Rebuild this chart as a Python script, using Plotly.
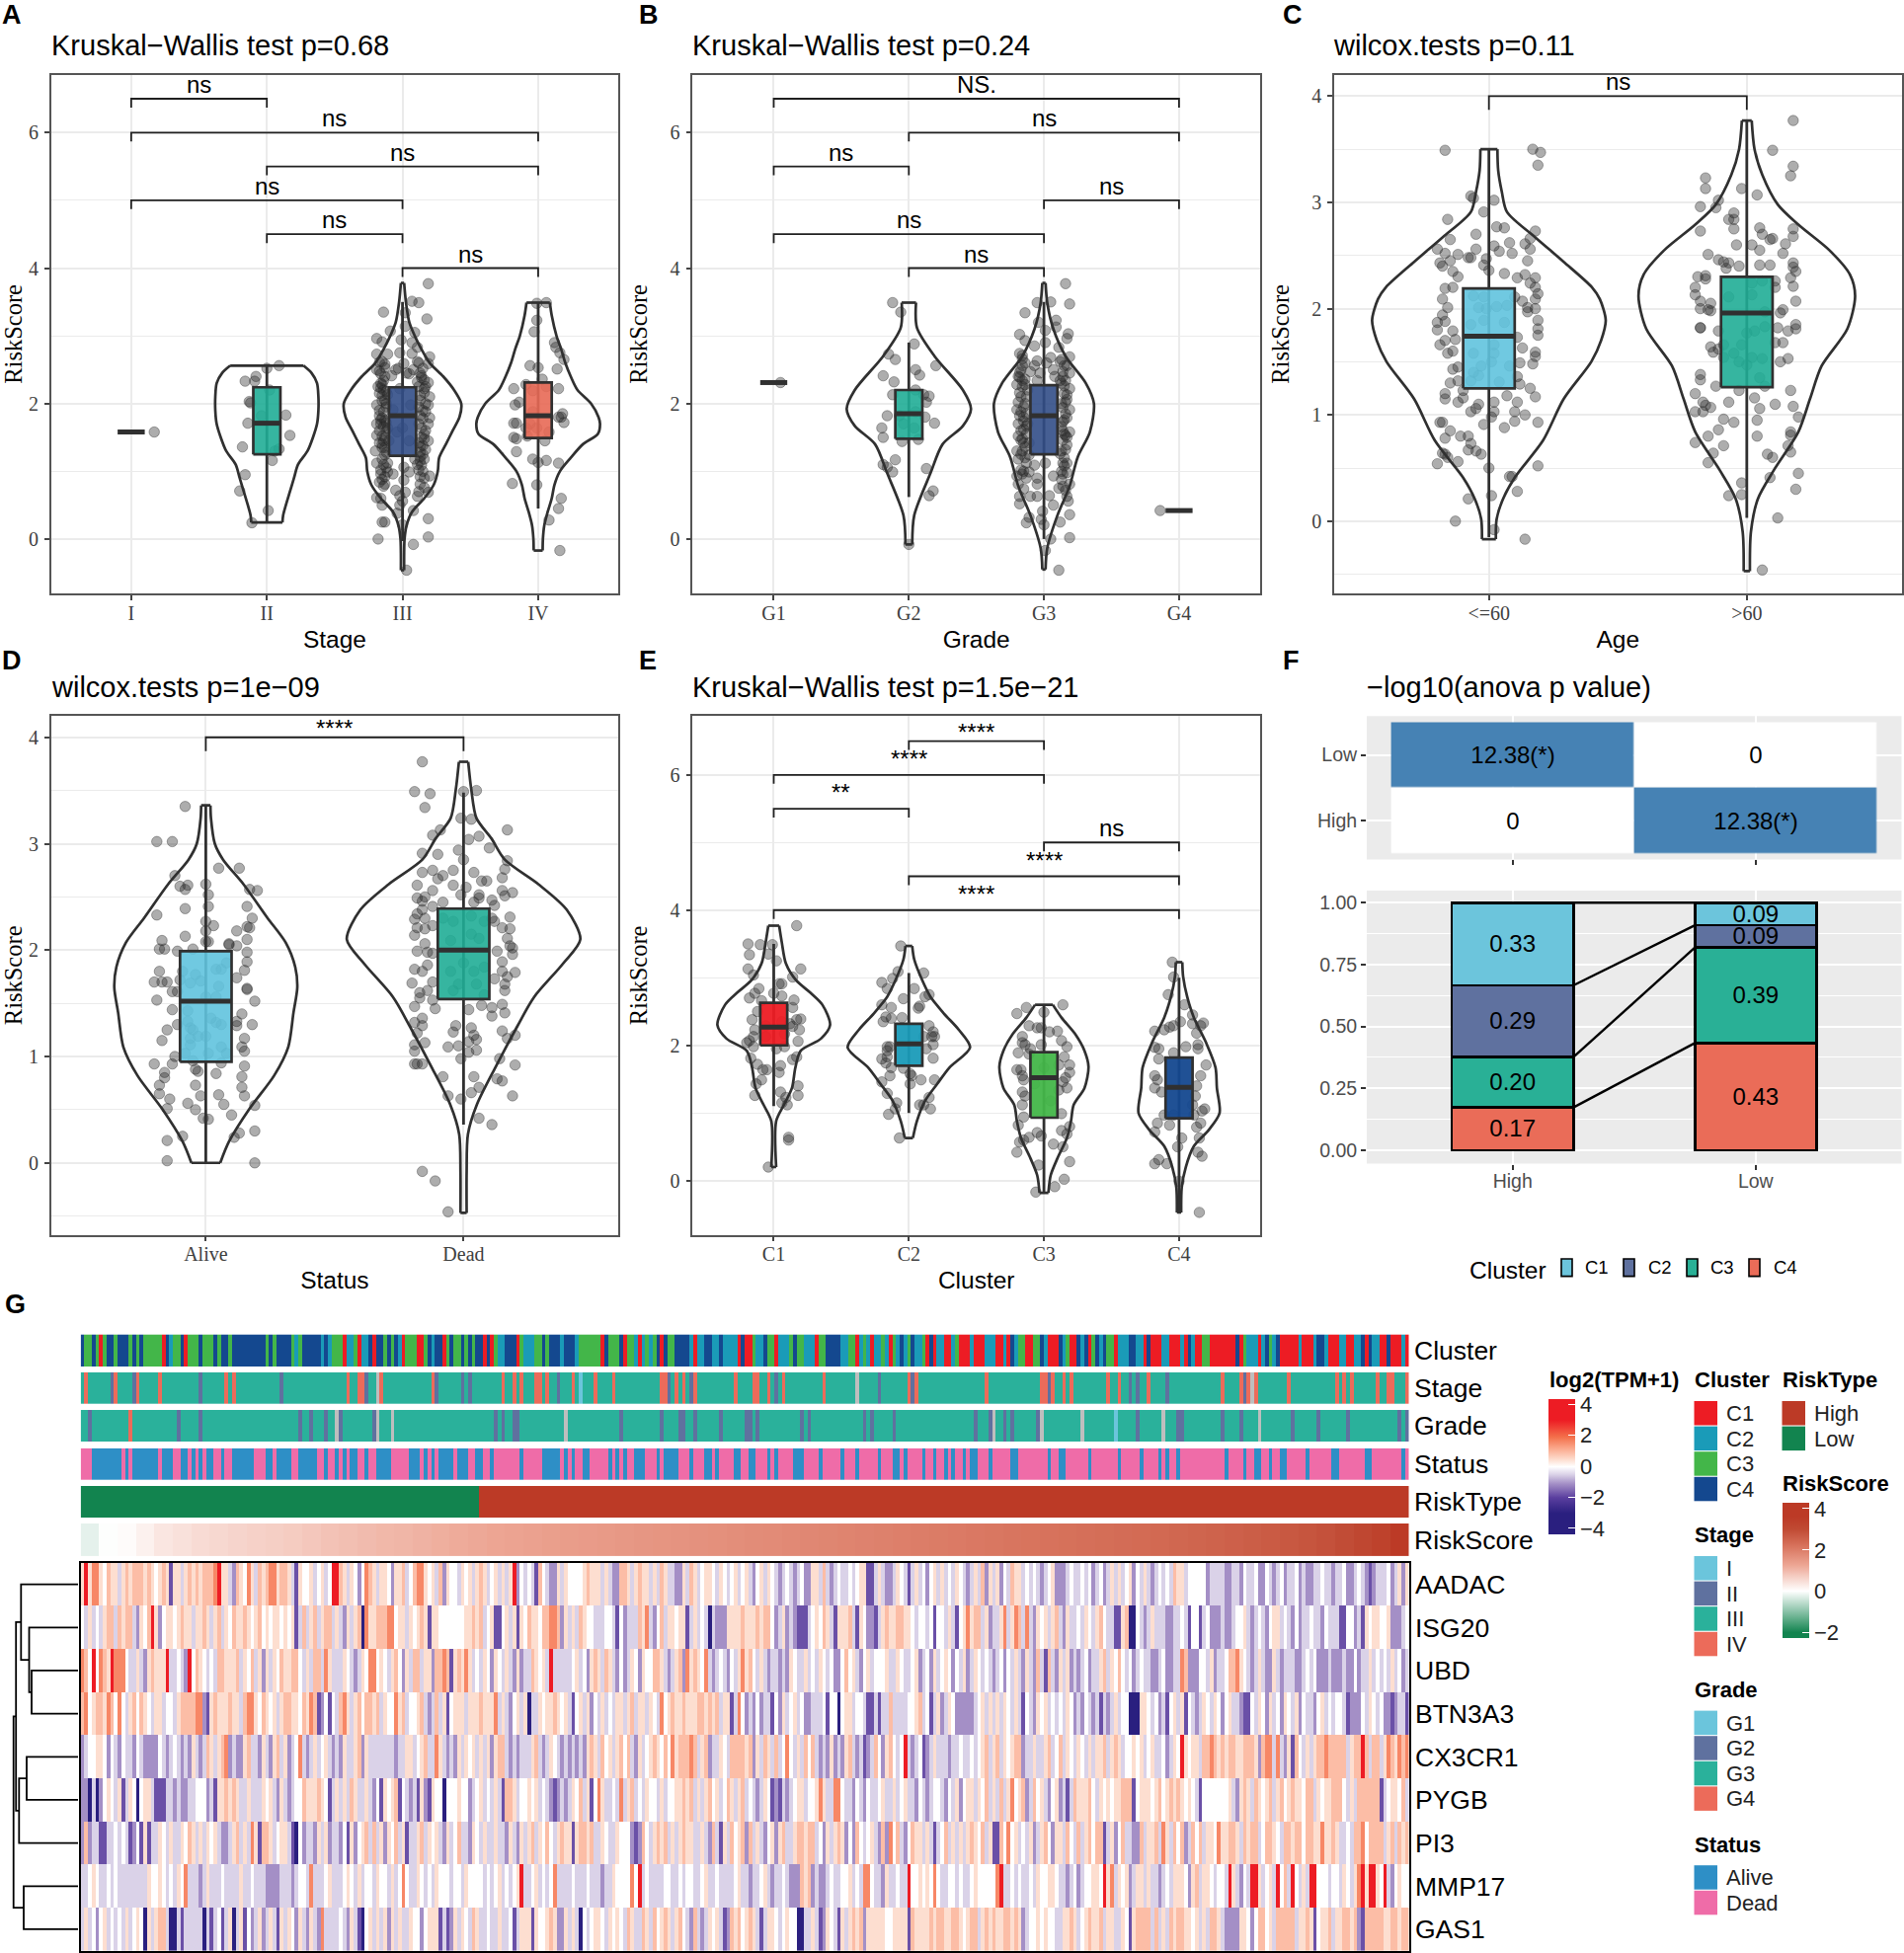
import plotly.graph_objects as go

W, H = 1928, 1978
# ---------- data ----------
# points: (horizontal jitter in category units, RiskScore)
A_I = [(.17,1.58)]
A_II = [(.09,2.56),(0,2.52),(-.08,2.4),(-.16,2.33),(-.09,2.33),(.02,2.2),(-.13,2.03),(-.12,2.01),(.14,1.83),(-.14,1.71),(.17,1.53),(-.18,1.36),(.09,1.33),(.04,1.16),(-.16,.95),(-.2,.71),(.01,.42),(-.11,.24),(-.04,1.82),(.06,1.3)]
A_III = [(.19,3.77),(.07,3.51),(.12,3.49),(-.14,3.35),(.02,3.34),(.18,3.25),(.02,3.14),(-.09,3.07),(.09,3.05),(-.19,2.96),(-.15,2.91),(-.01,2.94),(.07,2.9),(.11,2.83),(.07,2.74),(-.19,2.73),(-.11,2.73),(-.02,2.75),(.2,2.69),(.11,2.62),(.19,2.59),(-.17,2.61),(.01,2.59),(-.13,2.53),(-.05,2.5),(.05,2.44),(.14,2.41),(-.19,2.5),(-.16,2.44),(-.08,2.41),(.19,2.31),(-.15,2.28),(-.18,2.25),(-.02,2.22),(.16,2.16),(-.11,2.13),(.2,2.1),(-.15,2.04),(-.19,1.98),(.19,1.98),(.17,1.88),(-.17,1.82),(-.15,1.79),(.2,1.79),(-.16,1.7),(-.19,1.7),(.19,1.7),(.14,1.64),(-.11,1.64),(-.19,1.53),(-.15,1.52),(.19,1.45),(.16,1.55),(-.1,1.45),(.17,1.32),(-.2,1.3),(-.13,1.24),(.13,1.21),(.09,1.18),(-.19,1.12),(-.11,1.12),(.01,1.06),(.14,1.09),(-.16,.96),(-.11,.99),(.2,.93),(-.07,.96),(.05,.99),(.16,.9),(.01,.87),(-.17,.84),(-.13,.81),(.13,.81),(-.05,.72),(.02,.69),(.19,.69),(-.19,.61),(-.16,.6),(-.02,.64),(.11,.63),(-.15,.5),(-.02,.5),(0,.56),(.08,.42),(-.04,.38),(.19,.3),(-.15,.25),(-.13,.25),(0,.21),(-.18,0),(.19,.03),(.08,-.08),(.03,-.46),(-.07,1.91),(.06,1.98),(-.04,1.58),(.05,1.45),(0,1.64),(-.13,2.4),(-.16,2.3),(-.14,2.2),(-.17,2.15),(-.13,2.05),(-.12,1.95),(-.17,1.9),(-.13,1.75),(-.12,1.6),(-.14,1.45),(-.13,1.35),(-.14,1.1),(-.16,1.02),(-.15,.88),(.13,2.45),(.16,2.35),(.12,2.25),(.17,2.25),(.13,2.05),(.15,1.9),(.13,1.82),(.17,1.6),(.14,1.5),(.13,1.36),(.15,1.25),(.13,1.15),(.12,1.02),(.03,2.45),(-.03,2.52),(.08,2.5),(-.15,1.35),(-.17,1.42),
 (-.15,2.62),(-.13,2.58),(-.17,2.48),(-.14,2.34),(-.16,2.23),(-.12,2.18),(-.15,2.12),(-.12,2.0),(-.14,1.88),(-.16,1.76),(-.12,1.72),(-.14,1.66),(-.17,1.6),(-.13,1.5),(-.15,1.4),(-.12,1.28),(-.15,1.18),(-.12,1.05),(-.13,.92),(-.14,.78),(.12,2.6),(.15,2.52),(.14,2.38),(.11,2.32),(.16,2.22),(.13,2.12),(.17,2.0),(.12,1.95),(.15,1.78),(.12,1.7),(.16,1.48),(.12,1.42),(.15,1.38),(.13,1.28),(.16,1.18),(.11,1.1),(.15,1.0),(.13,.92),(.16,.76),(.12,.7)]
A_IV = [(-.01,3.48),(.06,3.49),(-.01,3.23),(-.03,3.06),(.12,2.9),(.13,2.83),(.16,2.75),(.19,2.65),(-.06,2.56),(0,2.53),(.14,2.51),(.03,2.36),(-.09,2.28),(-.18,2.22),(.15,2.22),(-.14,2.02),(-.17,1.98),(.18,1.85),(.15,1.8),(.17,1.8),(.19,1.72),(-.18,1.71),(-.16,1.71),(-.06,1.7),(-.09,1.64),(-.18,1.5),(-.16,1.48),(-.08,1.52),(.05,1.45),(-.16,1.29),(-.04,1.18),(.06,1.16),(0,1.13),(.15,1.12),(-.19,.82),(-.01,.8),(.17,.6),(.15,.45),(.08,.28),(.16,-.17),(-.04,1.88),(.06,2.25),(-.04,2.19),(.08,1.58),(-.01,1.64)]
B_G1 = [(.05,2.31)]
B_G2 = [(-.12,3.49),(-.06,3.35),(.04,2.88),(-.15,2.73),(-.1,2.65),(.2,2.56),(.05,2.5),(.08,2.42),(-.19,2.41),(-.11,2.32),(.05,2.2),(-.12,2.13),(.15,2.11),(.11,2.13),(.13,2.02),(.12,1.8),(-.16,1.82),(-.2,1.64),(.19,1.71),(-.19,1.5),(-.05,1.44),(.07,1.47),(-.1,1.17),(-.19,1.1),(-.16,1.06),(-.12,.99),(.13,1.04),(.18,.71),(.15,.64),(0,-.08),(-.07,1.82),(.05,1.88),(-.04,1.7),(.04,1.64)]
B_G3 = [(.16,3.77),(-.05,3.49),(.05,3.5),(.19,3.47),(-.14,3.34),(-.04,3.2),(.09,3.23),(.01,3.08),(.09,3.13),(-.18,3.02),(.18,3.03),(.17,2.96),(-.14,2.93),(-.07,2.85),(.01,2.9),(.11,2.83),(.19,2.69),(-.18,2.74),(-.16,2.71),(-.05,2.63),(.05,2.68),(.13,2.65),(.17,2.56),(-.16,2.56),(-.07,2.56),(.07,2.5),(.14,2.47),(.19,2.45),(-.19,2.4),(-.18,2.39),(-.1,2.47),(-.05,2.34),(-.2,2.28),(.16,2.34),(.19,2.22),(-.18,2.16),(-.13,2.1),(.17,2.13),(-.19,2.02),(.16,2.02),(.19,1.91),(-.2,1.91),(-.18,1.82),(-.15,1.8),(.17,1.79),(.14,1.73),(-.19,1.7),(-.13,1.67),(.19,1.58),(.16,1.53),(-.19,1.52),(-.16,1.48),(-.11,1.42),(.17,1.39),(-.2,1.3),(-.16,1.3),(-.11,1.24),(-.19,1.18),(.17,1.12),(.14,1.12),(-.07,1.09),(.01,1.12),(-.2,.93),(-.16,.96),(-.11,.99),(.14,.96),(-.05,.9),(.07,.93),(-.19,.81),(-.05,.81),(.19,.81),(.11,.75),(.14,.78),(-.18,.63),(-.1,.63),(-.05,.63),(.04,.64),(.17,.63),(.07,.5),(-.18,.52),(.18,.56),(-.01,.41),(.19,.36),(-.11,.32),(-.13,.24),(-.02,.29),(.12,.25),(0,.21),(.19,.02),(.05,0),(.01,-.17),(.11,-.46),(-.17,2.5),(-.14,2.36),(-.16,2.25),(-.12,2.2),(-.15,1.95),(-.13,1.85),(-.17,1.6),(-.13,1.55),(-.15,1.42),(-.14,1.2),(-.17,1.02),(.13,2.3),(.15,2.15),(.13,2.0),(.16,1.85),(.14,1.6),(.17,1.5),(.13,1.3),(.15,1.2),(.13,1.0),(.02,2.6),(-.03,2.45),(.08,2.4),
 (-.16,2.66),(-.14,2.6),(-.18,2.46),(-.16,2.34),(-.14,2.28),(-.17,2.1),(-.14,2.0),(-.17,1.88),(-.15,1.74),(-.12,1.7),(-.15,1.62),(-.17,1.46),(-.14,1.36),(-.17,1.25),(-.13,1.12),(-.15,1.0),(-.13,.9),(-.15,.74),(.12,2.62),(.15,2.56),(.14,2.4),(.12,2.34),(.15,2.26),(.17,2.06),(.14,1.94),(.15,1.76),(.13,1.66),(.15,1.55),(.14,1.46),(.16,1.32),(.12,1.26),(.15,1.08),(.17,.98),(.13,.88),(.16,.72)]
B_G4 = [(-.14,.42)]
C_LE60 = [(-.17,3.49),(.17,3.5),(.2,3.47),(.19,3.35),(-.07,3.06),(-.06,3.04),(.02,3.02),(-.02,2.91),(-.16,2.84),(.03,2.77),(.06,2.76),(-.05,2.7),(.18,2.73),(-.15,2.65),(.16,2.66),(.08,2.62),(.14,2.61),(-.2,2.56),(.02,2.59),(-.05,2.56),(.16,2.56),(-.17,2.52),(-.12,2.51),(.04,2.54),(.09,2.52),(-.08,2.48),(-.07,2.48),(-.15,2.45),(.15,2.45),(-.01,2.47),(-.19,2.43),(-.02,2.41),(-.18,2.4),(-.14,2.35),(0,2.36),(-.12,2.3),(.06,2.33),(.11,2.29),(.14,2.32),(.18,2.29),(.16,2.24),(-.17,2.19),(-.14,2.2),(.18,2.2),(.19,2.14),(.18,2.09),(-.18,2.09),(.13,2.07),(.1,2.11),(-.16,2.01),(.15,2.01),(.18,2.0),(-.18,1.94),(.15,1.97),(-.2,1.87),(-.17,1.88),(.19,1.89),(-.2,1.8),(-.14,1.79),(.19,1.81),(.19,1.75),(-.13,1.71),(-.19,1.66),(-.17,1.7),(.11,1.73),(.13,1.63),(-.14,1.6),(-.16,1.58),(.18,1.59),(.18,1.55),(.17,1.48),(.12,1.49),(-.12,1.45),(-.14,1.43),(.11,1.36),(-.12,1.32),(-.15,1.3),(.12,1.29),(.16,1.25),(-.1,1.23),(-.17,1.2),(.07,1.18),(-.17,1.15),(-.1,1.16),(.18,1.17),(-.12,1.12),(.02,1.12),(.11,1.12),(-.04,1.1),(-.05,1.06),(-.07,1.03),(.1,1.03),(.02,1.03),(.14,1.0),(.01,.98),(.1,.94),(-.19,.93),(-.18,.93),(.19,.93),(-.02,.91),(.06,.88),(-.15,.85),(-.11,.8),(-.08,.8),(-.17,.78),(-.07,.73),(-.08,.67),(-.05,.66),(-.18,.64),(-.17,.63),(-.03,.63),(-.16,.6),(-.12,.56),(-.2,.54),(.19,.52),(0,.5),(.08,.42),(.09,.42),(.11,.28),(-.08,.21),(.01,.24),(-.13,0),(.02,-.08),(.14,-.17),(-.06,2.12),(-.02,2.11),(-.04,2.01),(-.01,2.0),(.03,2.02),(.07,2.03),(-.02,1.89),(-.07,1.85),(.06,1.87),(.02,1.66),(-.06,1.58),(.02,1.58),(-.03,1.46),(.01,1.5),(.08,1.46),(-.06,1.4),(-.07,1.32),(.04,1.31),(-.04,1.37)]
C_GT60 = [(.18,3.77),(.1,3.49),(.18,3.34),(.17,3.25),(-.16,3.23),(-.16,3.13),(-.02,3.13),(.04,3.07),(-.11,3.02),(-.18,2.96),(-.12,2.95),(-.05,2.9),(-.07,2.84),(-.05,2.84),(-.05,2.75),(-.18,2.73),(.05,2.76),(.18,2.75),(.06,2.7),(.18,2.68),(.1,2.66),(.09,2.65),(.15,2.61),(-.04,2.6),(.02,2.6),(.05,2.55),(.14,2.52),(-.15,2.51),(-.11,2.46),(-.09,2.44),(-.07,2.43),(.18,2.43),(-.03,2.4),(.05,2.41),(.09,2.41),(-.08,2.38),(.18,2.39),(.19,2.35),(-.19,2.3),(-.16,2.31),(.17,2.29),(-.16,2.28),(.11,2.26),(-.2,2.2),(.18,2.21),(.11,2.2),(-.2,2.13),(-.18,2.07),(-.14,2.05),(.19,2.07),(-.18,2.0),(-.15,1.99),(.14,1.99),(-.14,1.98),(.13,1.96),(.19,1.85),(-.18,1.82),(-.18,1.82),(.07,1.83),(.12,1.82),(.19,1.81),(.16,1.79),(-.11,1.79),(.11,1.68),(.14,1.68),(-.14,1.64),(-.11,1.62),(-.13,1.59),(.16,1.53),(.13,1.5),(-.18,1.38),(-.18,1.33),(-.12,1.27),(-.03,1.23),(.05,1.35),(.07,1.27),(.17,1.23),(-.2,1.2),(.03,1.16),(-.07,1.12),(-.17,1.12),(.11,1.1),(.18,1.08),(-.16,1.09),(-.14,1.07),(.05,1.06),(-.2,1.03),(-.17,1.03),(.2,.98),(-.09,.96),(-.05,.93),(.04,.95),(-.11,.86),(.17,.84),(-.15,.8),(.04,.8),(.17,.81),(-.2,.74),(-.09,.71),(.16,.71),(-.13,.64),(.17,.65),(.08,.63),(.1,.6),(-.15,.55),(.2,.45),(.09,.41),(-.02,.36),(.19,.3),(-.07,.24),(-.02,.25),(.12,.03),(.06,-.46),(-.07,2.11),(.02,2.13),(.02,2.24),(.06,2.26),(.07,1.97),(0,1.77),(.03,1.79),(-.02,1.66),(-.09,1.66),(-.05,1.58),(.02,1.54),(.06,1.53),(-.03,1.5),(0,1.47),(-.09,1.54)]
D_ALIVE = [(-.08,3.35),(-.19,3.02),(-.13,3.02),(-.12,2.7),(-.1,2.6),(-.08,2.57),(-.07,2.61),(.05,2.77),(.13,2.77),(0,2.62),(.01,2.52),(.01,2.41),(.17,2.57),(.2,2.56),(.16,2.41),(.18,2.3),(-.08,2.39),(-.19,2.33),(0,2.27),(0,2.18),(.03,2.23),(.12,2.18),(.16,2.22),(.17,2.21),(-.08,2.13),(-.17,2.09),(.16,2.1),(0,2.08),(.01,2.08),(.09,2.06),(.09,2.05),(-.18,2.01),(-.16,2.01),(-.11,1.99),(-.05,2.01),(.12,2.04),(.16,1.98),(.16,1.89),(-.18,1.8),(-.2,1.7),(-.17,1.7),(-.15,1.7),(-.1,1.72),(-.13,1.61),(-.11,1.61),(-.19,1.53),(-.13,1.44),(-.15,1.25),(-.17,1.15),(-.11,1.3),(-.12,1.0),(-.2,.93),(-.13,.93),(-.16,.85),(-.16,.8),(-.18,.73),(-.18,.65),(-.14,.6),(-.15,.51),(-.07,.56),(-.04,.5),(-.04,.73),(-.02,.63),(-.04,.88),(-.03,.86),(-.01,.42),(.01,.41),(.04,.84),(.05,.64),(.07,.55),(.1,.45),(.14,.81),(.14,.71),(.15,.63),(.15,.91),(.19,.54),(.11,.24),(.13,.28),(.19,.3),(-.15,.21),(-.09,.25),(-.15,.02),(.19,0),(.16,1.64),(.16,1.63),(.19,1.52),(.14,1.4),(.18,1.3),(.12,1.33),(.12,1.29),(.15,1.17),(.14,1.09),(.15,1.05),(.12,1.74),(.15,1.81),(-.09,1.8),(-.04,1.77),(-.06,1.69),(-.02,1.71),(.04,1.82),(.06,1.82),(.08,1.88),(.05,1.66),(0,1.56),(.04,1.56),(-.07,1.43),(-.07,1.33),(.02,1.36),(.04,1.32),(.06,1.3),(-.06,1.27),(-.05,1.25),(-.06,1.17),(-.03,1.19),(0,1.19),(.06,1.09),(-.06,1.11),(-.08,1.03),(.01,1.03),(.08,1.03),(-.05,.96),(.06,.94)]
D_DEAD = [(-.16,3.77),(-.19,3.49),(-.13,3.47),(-.15,3.34),(0,3.49),(.05,3.5),(-.01,3.24),(.03,3.23),(.17,3.13),(-.09,3.13),(-.12,3.08),(.06,3.07),(.02,3.04),(.1,2.96),(-.02,2.94),(-.16,2.91),(-.1,2.9),(0,2.85),(.17,2.84),(.16,2.76),(-.12,2.75),(-.16,2.73),(-.04,2.75),(.04,2.73),(.15,2.68),(-.08,2.7),(-.1,2.67),(.07,2.65),(.09,2.65),(-.18,2.61),(-.04,2.61),(-.12,2.56),(.01,2.59),(.15,2.56),(.19,2.54),(-.15,2.5),(-.01,2.52),(.16,2.51),(-.18,2.49),(.06,2.52),(-.16,2.46),(-.08,2.45),(.04,2.45),(.11,2.47),(.06,2.49),(.12,2.42),(-.12,2.41),(-.16,2.38),(-.18,2.34),(.18,2.31),(-.19,2.29),(-.15,2.3),(.11,2.3),(.12,2.27),(-.18,2.21),(-.15,2.2),(-.12,2.23),(.15,2.21),(.18,2.2),(-.19,2.14),(.17,2.11),(-.15,2.06),(.18,2.04),(.19,2.02),(-.18,1.99),(-.14,1.98),(.13,1.99),(.19,1.96),(-.12,1.97),(.15,1.89),(-.14,1.86),(.2,1.79),(-.19,1.82),(-.16,1.8),(.15,1.8),(.17,1.75),(.12,1.73),(-.2,1.69),(-.12,1.7),(.16,1.68),(-.17,1.6),(-.14,1.62),(.16,1.62),(-.17,1.55),(-.12,1.53),(.15,1.49),(-.19,1.47),(-.11,1.45),(.02,1.44),(.07,1.48),(.11,1.46),(.16,1.41),(.11,1.38),(-.16,1.36),(-.19,1.32),(-.16,1.29),(-.03,1.29),(.03,1.27),(.15,1.24),(-.18,1.22),(-.04,1.23),(.04,1.2),(.2,1.2),(.17,1.17),(.05,1.16),(.02,1.14),(-.15,1.13),(-.19,1.11),(-.06,1.09),(-.02,1.1),(-.19,1.05),(.02,1.04),(.05,1.06),(.14,.98),(-.01,.98),(-.19,.93),(-.18,.93),(-.16,.93),(.2,.92),(-.08,.81),(.04,.81),(.13,.79),(.15,.77),(.06,.71),(.03,.66),(-.06,.63),(-.01,.6),(.19,.63),(.06,.42),(.11,.36),(-.16,-.08),(-.11,-.17),(-.06,-.46),(-.08,2.3),(-.04,2.27),(.03,2.32),(.08,2.27),(-.05,2.09),(.03,2.15),(.06,2.11),(-.05,1.8),(0,1.88),(.04,1.8),(.08,1.84),(-.02,1.68),(.05,1.68),(-.04,1.62),(.08,1.58)]
E_C1 = [(.17,3.77),(-.19,3.5),(-.1,3.49),(-.01,3.49),(-.18,3.34),(-.04,3.35),(.02,3.25),(-.19,3.13),(.2,3.13),(-.15,3.04),(.14,3.01),(.04,2.91),(.06,2.91),(-.11,2.84),(-.14,2.77),(0,2.77),(.06,2.73),(-.18,2.7),(.15,2.67),(-.09,2.66),(.14,2.56),(-.12,2.5),(-.16,2.38),(.2,2.39),(.17,2.38),(.12,2.32),(.14,2.28),(-.14,2.23),(.19,2.23),(-.15,2.13),(-.18,2.07),(-.2,2.04),(.18,2.06),(-.15,1.98),(.08,1.98),(.02,1.95),(-.17,1.81),(.17,1.83),(.14,1.79),(-.12,1.72),(.05,1.7),(-.08,1.64),(-.05,1.64),(.04,1.6),(-.09,1.49),(-.13,1.43),(.18,1.4),(.05,1.31),(.09,1.23),(.18,1.26),(-.14,1.26),(.06,1.15),(.1,1.12),(.11,.64),(.11,.6),(-.04,.2),(-.06,2.29),(.06,2.35),(-.06,2.13),(.08,2.17)]
E_C2 = [(-.06,3.47),(-.08,3.09),(.11,3.07),(-.2,2.93),(-.12,2.99),(-.16,2.84),(.04,2.84),(.15,2.75),(.12,2.72),(-.04,2.69),(-.2,2.6),(-.13,2.56),(.08,2.58),(.07,2.55),(-.17,2.42),(-.13,2.4),(-.05,2.41),(-.19,2.35),(.15,2.29),(.18,2.2),(.19,2.13),(.17,2.13),(.11,2.13),(-.16,1.98),(-.14,1.98),(-.16,1.92),(.18,2.01),(.13,1.95),(-.2,1.8),(-.16,1.83),(-.17,1.74),(.18,1.81),(-.13,1.67),(-.04,1.66),(.01,1.58),(-.14,1.55),(.02,1.55),(.19,1.49),(-.2,1.46),(.09,1.49),(-.16,1.29),(-.09,1.15),(-.1,1.06),(.08,1.12),(.11,1.12),(.15,1.23),(.16,1.06),(-.15,.98),(-.07,.63),(.01,1.43)]
E_C3 = [(.14,2.6),(-.13,2.56),(-.2,2.47),(0,2.49),(-.11,2.29),(-.05,2.26),(-.02,2.26),(.1,2.21),(.04,2.2),(-.16,2.13),(.13,2.07),(-.14,2.01),(-.16,2.04),(-.02,2.01),(.17,1.98),(-.1,1.95),(-.19,1.89),(-.11,1.87),(.15,1.83),(.11,1.71),(.19,1.71),(-.2,1.64),(-.17,1.64),(.19,1.6),(-.16,1.55),(.16,1.52),(-.15,1.49),(.14,1.46),(.17,1.37),(-.16,1.31),(-.14,1.25),(-.16,1.12),(.13,.99),(-.15,.94),(-.19,.82),(.19,.8),(.13,.74),(.17,.69),(-.05,.71),(-.02,.66),(-.11,.64),(-.15,.6),(-.18,.57),(.07,.54),(.14,.5),(-.2,.42),(.19,.28),(-.04,.23),(.15,.02),(.08,-.09),(-.06,-.17),(0,1.67),(-.07,1.43),(.05,1.18),(.11,1.34)]
E_C4 = [(-.05,3.23),(-.04,3.01),(-.08,2.75),(.04,2.6),(.1,2.45),(.01,2.35),(.18,2.33),(.1,2.32),(-.07,2.27),(-.04,2.29),(.16,2.29),(-.11,2.23),(-.18,2.21),(.13,2.18),(.14,2.01),(.05,1.98),(-.18,1.97),(-.15,1.95),(.14,1.95),(-.04,1.89),(-.15,1.8),(.2,1.71),(-.18,1.55),(-.16,1.49),(.16,1.55),(-.18,1.37),(.13,1.4),(-.13,1.31),(.12,1.25),(.1,1.12),(.19,1.06),(.17,1.03),(-.11,.97),(-.04,.97),(.11,.97),(-.16,.85),(-.07,.82),(.16,.85),(.13,.79),(-.18,.72),(.02,.63),(.15,.63),(-.01,.5),(.14,.42),(.17,.36),(-.15,.31),(-.18,.25),(-.09,.25),(0,-.01),(.15,-.47)]

# violin outlines: (RiskScore, half-width in category units), top to bottom
V_A_II = [(2.56,.27),(2.45,.33),(2.3,.37),(2.1,.38),(1.9,.38),(1.7,.37),(1.5,.34),(1.3,.3),(1.1,.23),(.9,.2),(.7,.17),(.5,.14),(.35,.12),(.245,.115)]
V_A_III = [(3.78,.012),(3.5,.025),(3.2,.05),(3.0,.09),(2.8,.14),(2.6,.2),(2.4,.3),(2.2,.38),(2.0,.433),(1.8,.42),(1.6,.37),(1.4,.32),(1.2,.27),(1.0,.26),(.8,.23),(.6,.16),(.4,.07),(.2,.03),(0,.015),(-.2,.012),(-.46,.012)]
V_A_IV = [(3.49,.086),(3.3,.1),(3.0,.135),(2.8,.17),(2.6,.2),(2.4,.24),(2.2,.29),(2.0,.39),(1.8,.445),(1.7,.456),(1.55,.44),(1.4,.33),(1.2,.24),(1.0,.16),(.8,.12),(.6,.1),(.4,.07),(.2,.045),(0,.035),(-.17,.033)]
V_B_G2 = [(3.49,.053),(3.12,.06),(2.7,.19),(2.2,.4),(1.92,.46),(1.67,.4),(1.4,.25),(.97,.16),(.35,.04),(-.08,.025)]
V_B_G3 = [(3.78,.012),(3.48,.025),(3.1,.07),(2.7,.16),(2.3,.31),(2.0,.37),(1.58,.34),(1.21,.25),(.78,.19),(.35,.1),(-.14,.024),(-.45,.012)]
V_C_LE60 = [(3.5,.033),(3.3,.036),(3.1,.05),(2.91,.07),(2.67,.18),(2.44,.29),(2.2,.4),(2.09,.43),(1.89,.453),(1.7,.435),(1.5,.397),(1.15,.29),(.76,.21),(.41,.1),(.21,.055),(.02,.03),(-.17,.027)]
V_C_GT60 = [(3.77,.019),(3.5,.03),(3.26,.06),(2.98,.12),(2.79,.2),(2.55,.32),(2.32,.4),(2.12,.42),(1.81,.39),(1.46,.29),(1.15,.245),(.84,.2),(.48,.105),(.21,.043),(-.1,.016),(-.47,.012)]
V_D_ALIVE = [(3.36,.018),(3.24,.02),(3.0,.035),(2.85,.067),(2.62,.146),(2.3,.24),(2.07,.31),(1.84,.347),(1.65,.355),(1.41,.34),(1.09,.32),(.82,.265),(.51,.17),(.2,.09),(0,.056)]
V_D_DEAD = [(3.77,.018),(3.51,.03),(3.24,.05),(3.05,.108),(2.85,.16),(2.62,.29),(2.38,.4),(2.1,.453),(1.87,.385),(1.56,.274),(1.29,.21),(.9,.124),(.55,.052),(.27,.017),(-.08,.012),(-.47,.012)]
V_E_C1 = [(3.77,.04),(3.52,.06),(3.21,.09),(2.96,.166),(2.78,.27),(2.6,.36),(2.3,.417),(2.1,.35),(1.92,.2),(1.67,.16),(1.37,.135),(1.12,.075),(.88,.018),(.2,.018)]
V_E_C2 = [(3.47,.025),(3.27,.04),(2.96,.1),(2.72,.16),(2.47,.26),(2.23,.37),(1.97,.453),(1.67,.3),(1.43,.21),(1.18,.12),(.88,.06),(.63,.03)]
V_E_C3 = [(2.6,.066),(2.41,.13),(2.17,.23),(1.92,.3),(1.68,.33),(1.37,.3),(1.12,.22),(.88,.2),(.63,.17),(.33,.1),(.08,.05),(-.18,.033)]
V_E_C4 = [(3.23,.024),(3.02,.03),(2.72,.06),(2.41,.11),(2.04,.2),(1.67,.27),(1.37,.28),(1.0,.3),(.75,.22),(.51,.11),(.2,.05),(-.1,.02),(-.47,.016)]

# box statistics: q1, median, q3, lower whisker, upper whisker
S_A = [(1.58,1.58,1.58,1.58,1.58),(1.25,1.71,2.24,.24,2.56),(1.23,1.82,2.24,-.03,3.5),(1.49,1.82,2.31,.45,3.49)]
S_B = [(2.31,2.31,2.31,2.31,2.31),(1.48,1.85,2.2,.62,2.9),(1.25,1.82,2.27,0,3.5),(.42,.42,.42,.42,.42)]
S_C = [(1.25,1.74,2.19,-.15,3.5),(1.26,1.96,2.3,.03,3.77)]
S_D = [(.95,1.52,1.99,0,3.36),(1.54,2.0,2.39,.36,3.48)]
S_E = [(2.0,2.27,2.63,1.1,3.5),(1.7,2.02,2.32,1.0,3.07),(.93,1.52,1.9,-.17,2.6),(.92,1.38,1.82,-.47,3.0)]

# significance brackets: from, to, height, label
BR_A = [(1,2,6.5,"ns"),(1,4,6,"ns"),(2,4,5.5,"ns"),(1,3,5,"ns"),(2,3,4.5,"ns"),(3,4,4,"ns")]
BR_B = [(1,4,6.5,"NS."),(2,4,6,"ns"),(1,2,5.5,"ns"),(3,4,5,"ns"),(1,3,4.5,"ns"),(2,3,4,"ns")]
BR_C = [(1,2,4,"ns")]
BR_D = [(1,2,4,"****")]
BR_E = [(2,3,6.5,"****"),(1,3,6,"****"),(1,2,5.5,"**"),(3,4,5,"ns"),(2,4,4.5,"****"),(1,4,4,"****")]

STAGES = ["I","II","III","IV"]; GRADES = ["G1","G2","G3","G4"]; AGES = ["<=60",">60"]
STATUS = ["Alive","Dead"]; CLUSTERS = ["C1","C2","C3","C4"]

# panel F
F_LEVELS = ["High","Low"]
F_ANOVA = [[0,12.38],[12.38,0]]
F_ANOVA_TEXT = [["0","12.38(*)"],["12.38(*)","0"]]
F_HIGH = {"C4":.173,"C3":.203,"C2":.29,"C1":.334}
F_LOW = {"C4":.433,"C3":.386,"C2":.09,"C1":.091}
F_HIGH_TXT = {"C4":"0.17","C3":"0.20","C2":"0.29","C1":"0.33"}
F_LOW_TXT = {"C4":"0.43","C3":"0.39","C2":"0.09","C1":"0.09"}

# panel G annotation tracks, run-length tokens: first digit = class, rest = run length
T_CLUSTER = "41 32 41 31 11 31 42 31 43 31 41 31 41 35 11 41 21 32 41 11 33 41 33 41 31 42 31 49 31 41 31 44 31 21 31 45 21 41 21 33 11 22 31 11 22 41 11 42 31 41 31 41 21 11 33 12 31 41 21 42 11 31 41 32 41 31 41 31 42 11 41 11 31 22 43 11 31 23 32 41 31 43 21 43 21 36 11 41 33 41 11 32 21 11 21 31 21 31 41 11 41 32 44 21 11 22 42 22 41 24 11 41 12 31 22 41 32 11 23 31 41 32 23 11 32 44 22 32 11 21 31 21 11 22 31 21 11 31 21 41 21 31 41 22 31 11 41 11 22 12 21 31 13 21 13 23 12 21 11 41 21 32 12 32 41 21 13 41 21 31 12 41 21 41 11 31 41 21 41 32 11 23 42 22 11 41 13 22 13 21 11 41 21 12 32 17 41 11 31 23 11 21 41 31 21 41 11 14 21 13 21 42 21 13 22 12 22 41 11 41 22 12 41 13 21 14"
T_STAGE = "31 41 36 21 41 34 21 41 35 41 310 21 36 41 31 41 312 21 317 41 32 42 21 32 01 41 313 41 21 36 21 31 21 38 41 32 41 31 41 33 42 31 41 32 21 33 41 31 11 33 41 34 41 312 42 21 31 41 31 41 31 21 41 310 41 34 42 32 41 31 21 31 41 310 41 38 01 35 21 37 41 21 41 318 41 314 42 21 41 32 41 31 41 39 41 32 41 32 21 31 21 32 41 34 21 314 41 34 41 21 41 01 41 38 41 312 41 31 41 31 41 36 41 32 42 33 42 33"
T_GRADE = "32 21 310 41 312 21 35 21 326 21 32 21 33 21 32 01 21 38 21 01 33 01 327 21 31 21 32 22 31 311 01 314 21 310 21 34 22 32 21 36 21 36 22 31 21 311 21 31 21 314 21 31 21 35 21 321 21 31 32 21 01 32 21 31 21 36 21 01 310 01 38 11 35 21 36 01 33 22 310 21 34 21 34 01 38 21 36 21 37 21 313 21 31 21 33"
T_STATUS = "23 18 21 11 21 17 21 13 22 12 21 11 21 11 21 12 22 11 22 16 23 12 21 14 22 15 22 11 22 11 21 11 21 12 22 11 22 14 25 13 21 11 21 11 21 14 21 13 22 12 22 11 27 11 25 15 21 11 21 11 22 12 25 11 21 11 21 11 22 13 23 11 21 14 23 11 23 12 21 11 24 12 22 12 23 11 21 11 24 13 24 11 25 11 23 11 25 11 23 12 21 11 24 11 22 11 22 11 21 11 22 11 21 12 23 11 25 12 28 11 22 12 26 11 27 11 25 11 24 11 21 11 22 11 212 11 24 11 22 12 22 11 22 12 25 11 26 12 27 12 28 11 25"
T_RISKTYPE = "2108 1252"
RISK_SCORE = [-.22,-.02,.06,.2,.35,.42,.5,.55,.6,.64,.68,.72,.78,.85,.9,.95,1.0,1.03,1.08,1.13,1.18,1.22,1.27,1.3,1.34,1.38,1.41,1.44,1.47,1.5,1.53,1.56,1.59,1.62,1.65,1.68,1.71,1.74,1.77,1.8,1.83,1.86,1.89,1.92,1.95,1.98,2.01,2.04,2.07,2.1,2.13,2.16,2.19,2.22,2.25,2.28,2.31,2.34,2.38,2.42,2.46,2.5,2.55,2.6,2.66,2.72,2.78,2.85,2.95,3.1,3.3,3.6]
GENES = ["AADAC","ISG20","UBD","BTN3A3","CX3CR1","PYGB","PI3","MMP17","GAS1"]
# expression class per sample: 0 darkest purple ... 4 white ... 8 red
LEVEL_VALUES = [-3,-1.8,-1.1,-.5,0,.45,.9,1.6,3]
R_AADAC = "5857754655 3565666565 4565155356 5656667855 3265475365 6775665315 4453453488 6535424765 3554255634 6775453625 4435453565 3453535824 3431643225 3544445655 5353226653 5655353653 3225365345 5435434534 5324535432 3432342255 3632343343 4551135322 3543135342 4535343543 2353625352 4365534343 2345222343 3434234235 3534524353 2343436553 4444423333 2233243342 2432342334 2322334332 3342234321 2333423525"
R_ISG20 = "4353435663 6566325468 5245545655 3556535635 4655654564 5455454513 6356356635 3253560755 6667745535 4565155444 4444556563 4511453515 4655466776 2535365443 3344314233 3657324635 5455135343 0322255556 5556566423 5232111345 4653155563 1542213565 5665543443 4144353145 7566352335 7357637325 4535632533 4354356433 1156004323 5333223343 1441342223 2234453234 3245534324 2334332433 3114423154 5544522234"
R_UBD = "7648476587 7743353256 5558334328 4654343665 5563546352 5354655664 3536637533 3543235477 4543564253 6635526676 1565753435 4254353252 3365453833 3334534256 5365324235 4254466532 3562756547 3234324357 5643532332 3254335343 5434224645 3245344453 3543345234 2534542435 2354343234 2435325326 3163253523 2342335635 4643423433 2234223376 2224435233 4667543235 3225323332 2343422232 2232242335 3434353423"
R_BTN3A3 = "6745665764 7435646543 5534435666 6772156555 6553677546 5453566554 6576124143 6753564665 6354475634 4563236351 4555355565 5573532453 5033545565 4531453524 3534355356 3553543745 6556555665 6563551374 2324233142 5345342233 3414404553 4431131336 3333445634 1352354222 2234535353 5435314325 4534343542 3243231323 5344000554 3423145351 4323543542 4533211435 4253425435 2433245343 4431222435 4342212331"
R_CX3CR1 = "2344554243 2433243222 2432343232 5323653567 2322563325 3256352347 3235345323 2533562533 3333323355 3456337532 3253545353 5256632323 3356323543 2323232565 3645356463 2534565464 7566676356 2335436666 5625365363 4743536463 2325232563 2312364256 4348323412 3533323343 3434563563 5456623353 3563463543 5435355635 6534454534 5334235485 4553667656 5665566652 6773732516 4353566766 6663566863 6635765767"
R_PYGB = "2203024543 5135404553 1113323223 3444231556 5653353335 4532532344 6555654135 3536533532 4154561432 3152154404 4454423453 4353166534 4545343212 3235463514 7533437356 3435443534 4556563535 6453465356 3432354121 3234553445 7533774332 4324334533 5345332432 3443243524 5535463536 3574562364 5324523136 5556435454 5566614555 4564565654 5431444444 4532565365 4563564565 5466354556 6643536666 6613455463"
R_PI3 = "2623311334 3431241513 3543533546 5353545322 3563537516 6534553104 2332535233 2415245636 3525463513 3563545325 3463325435 3353325325 3563546435 6551566563 3543354442 1264356563 5356553353 2631536456 2635324525 6335665663 4253565242 6434532627 4632465535 3134635353 5654635116 4745343523 5642553643 6356466135 2463322635 5637536462 3646355475 5665365663 4665436656 6466557556 5334366746 6663563656"
R_MMP17 = "3345433434 3333333354 4543435473 3323533343 3335334333 2222333234 4373334533 3454353443 5443534743 3543435444 3443544443 4345343458 3345343473 3334333433 3233544447 4834333344 3343443345 3343333453 3233453233 4322265623 2234334453 4377433253 3433844545 4743344343 3454444478 3343433435 4455433234 2344554857 3545235535 3323435554 2563554344 3853243885 3453846384 3538844434 4354357858 8548324544"
R_GAS1 = "3534245343 4353454053 5663003133 3330313413 5035142352 3531535425 3253273333 4325310453 5352535335 4424555131 2535436533 4335334135 5515445652 2535304345 5435454365 3365364565 3564326323 5453126564 5653135543 4544003353 1254315356 5625555544 5555165555 6566556654 5663565655 6656523445 4544335565 3456556355 3354156666 3635365665 5453536653 2222554246 6453666663 5565145563 5566562166 6665566566"
HEAT_ROWS = [R_AADAC,R_ISG20,R_UBD,R_BTN3A3,R_CX3CR1,R_PYGB,R_PI3,R_MMP17,R_GAS1]
# dendrogram merges: child, child, height
MERGES = [(2,3,47),(1,9,49.5),(0,10,57.7),(4,5,52),(6,12,59.7),(11,13,62.8),(7,8,55),(14,15,65.3)]

# ---------- styles ----------
N = 360
GRID = "#EBEBEB"; TICKC = "#404040"; SERIF = "Liberation Serif"; SANS = "Liberation Sans"
CL = {"C1":"#ED1C24","C2":"#1A9BB8","C3":"#43B649","C4":"#14488F"}
ST = ["#BEBEBE","#6BC5DC","#5F719F","#2AB19B","#EC6B5A"]
FILL = {"teal":"rgba(32,173,150,.9)","navy":"rgba(50,78,135,.9)","coral":"rgba(232,105,85,.9)","sky":"rgba(96,195,222,.9)",
        "c1":"rgba(237,28,36,.95)","c2":"rgba(26,155,184,.95)","c3":"rgba(67,182,73,.95)","c4":"rgba(20,72,143,.95)"}
LAV = [[0,"#2A1F7F"],[(4.35-3)/8.7,"#2A1F7F"],[(4.35-2)/8.7,"#5A3E9E"],[(4.35-1.1)/8.7,"#A48FC6"],[(4.35-.5)/8.7,"#DAD2E8"],[.5,"#FFFFFF"],[(4.35+.5)/8.7,"#FDDACB"],[(4.35+1.1)/8.7,"#FBAE93"],[(4.35+1.9)/8.7,"#F4704B"],[(4.35+3)/8.7,"#ED1C24"],[1,"#ED1C24"]]
RS = [[0,"#12844F"],[.27/6.54,"#12844F"],[2.27/6.54,"#FFFFFF"],[3.52/6.54,"#EDA694"],[4.42/6.54,"#D8745E"],[5.27/6.54,"#C04A33"],[5.87/6.54,"#BC3A26"],[1,"#BC3A26"]]

layout = dict(template="none", width=W, height=H, autosize=False, margin=dict(l=0,r=0,t=0,b=0,pad=0), paper_bgcolor="white", plot_bgcolor="white",
              showlegend=False, font=dict(family=SANS, color="black"), barmode="stack", bargap=.5)
ann, shapes, traces = [], [], []
count = 0
def axes(x0,x1,y0,y1,xa,ya):
    global count
    count += 1
    s = "" if count==1 else str(count)
    layout["xaxis"+s] = dict(domain=[x0/W,x1/W], anchor="y"+s, automargin=False, **xa)
    layout["yaxis"+s] = dict(domain=[1-y1/H,1-y0/H], anchor="x"+s, automargin=False, **ya)
    return "x"+s, "y"+s
def text(x,y,t,size,bold=False,anchor="left",color="black",family=SANS):
    ann.append(dict(xref="paper",yref="paper",x=x/W,y=1-y/H,text=("<b>%s</b>"%t if bold else t),showarrow=False,xanchor=anchor,yanchor="middle",
                    font=dict(size=size,color=color,family=family),borderpad=0))
def panel_axes(x0,x1,y0,y1,xr,cats,xt,yticks,yminor):
    base = dict(showline=True,mirror=True,linecolor="#555555",linewidth=1.6,showgrid=True,gridcolor=GRID,gridwidth=2,zeroline=False,
                ticks="outside",ticklen=5,tickwidth=1.5,tickcolor="#444444",tickfont=dict(family=SERIF,size=20,color=TICKC))
    xa = dict(base,range=xr,tickvals=list(range(1,len(cats)+1)),ticktext=cats,ticklabelstandoff=-4,title=dict(text=xt,font=dict(family=SANS,size=24.5),standoff=8))
    ya = dict(base,tickvals=yticks,ticktext=[str(v) for v in yticks],ticklabelstandoff=2,minor=dict(tickvals=yminor,showgrid=True,gridcolor=GRID,gridwidth=1.2,ticks=""),
              title=dict(text="RiskScore",font=dict(family=SERIF,size=24.5),standoff=16))
    return axes(x0,x1,y0,y1,xa,ya)
def line(xr,yr,xs,ys,width,color="#303030",shape="linear",fill=None,fc=None):
    traces.append(go.Scatter(x=xs,y=ys,xaxis=xr,yaxis=yr,mode="lines",line=dict(color=color,width=width,shape=shape),fill=fill,fillcolor=fc,hoverinfo="skip"))
def group(xr,yr,c,pts,outline,stat,fill):
    traces.append(go.Scatter(x=[c+j for j,_ in pts],y=[v for _,v in pts],xaxis=xr,yaxis=yr,mode="markers",hoverinfo="skip",
                             marker=dict(size=10.5,color="rgba(40,40,40,.38)",line=dict(width=1,color="rgba(40,40,40,.38)"))))
    if outline:
        ys=[v for v,_ in outline]; hw=[h for _,h in outline]
        xs=[c+h for h in hw]+[None]+[c-h for h in hw]+[None,c-hw[0],c+hw[0],None,c-hw[-1],c+hw[-1]]
        yy=ys+[None]+ys+[None,ys[0],ys[0],None,ys[-1],ys[-1]]
        traces.append(go.Scatter(x=xs,y=yy,xaxis=xr,yaxis=yr,mode="lines",line=dict(color="#303030",width=2.7,shape="spline",smoothing=.8),hoverinfo="skip"))
    q1,m,q3,lo,hi=stat
    b=.1
    if hi>lo:
        line(xr,yr,[c,c],[lo,hi],2.8)
        line(xr,yr,[c-b,c+b,c+b,c-b,c-b],[q1,q1,q3,q3,q1],2.7,fill="toself",fc=fill)
    line(xr,yr,[c-b,c+b],[m,m],5)
def brackets(xr,yr,lst,top_first):
    for i,(a,b,y,lab) in enumerate(lst):
        line(xr,yr,[a,a,b,b],[y-.13,y,y,y-.13],1.8,color="#202020")
        if "*" in lab:
            shift = -5 if (top_first and i==0) else 2
        else:
            shift = 0
        ann.append(dict(xref=xr,yref=yr,x=(a+b)/2,y=y,text=lab,showarrow=False,yanchor="bottom",yshift=shift,
                        font=dict(size=24,color="black",family=SANS),borderpad=0))

# ---------- panels A-E ----------
X1=(51.8,626); X2=(701.4,1276); X3=(1351,1925.5); Y1=(75.8,601); Y2=(725.2,1250.5)
xr,yr=panel_axes(*X1,*Y1,[.41,4.59],STAGES,"Stage",[0,2,4,6],[1,3,5]); layout["y"+"axis"+xr[1:]]["range"]=[-.803,6.853]
for c,p,o,s,f in zip([1,2,3,4],[A_I,A_II,A_III,A_IV],[None,V_A_II,V_A_III,V_A_IV],S_A,[None,FILL["teal"],FILL["navy"],FILL["coral"]]): group(xr,yr,c,p,o,s,f)
brackets(xr,yr,BR_A,False)
xr,yr=panel_axes(*X2,*Y1,[.4,4.6],GRADES,"Grade",[0,2,4,6],[1,3,5]); layout["y"+"axis"+xr[1:]]["range"]=[-.803,6.853]
for c,p,o,s,f in zip([1,2,3,4],[B_G1,B_G2,B_G3,B_G4],[None,V_B_G2,V_B_G3,None],S_B,[None,FILL["teal"],FILL["navy"],None]): group(xr,yr,c,p,o,s,f)
brackets(xr,yr,BR_B,False)
xr,yr=panel_axes(*X3,*Y1,[.4,2.6],AGES,"Age",[0,1,2,3,4],[-.5,.5,1.5,2.5,3.5]); layout["y"+"axis"+xr[1:]]["range"]=[-.68,4.2]
for c,p,o,s,f in zip([1,2],[C_LE60,C_GT60],[V_C_LE60,V_C_GT60],S_C,[FILL["sky"],FILL["teal"]]): group(xr,yr,c,p,o,s,f)
brackets(xr,yr,BR_C,False)
xr,yr=panel_axes(*X1,*Y2,[.4,2.6],STATUS,"Status",[0,1,2,3,4],[-.5,.5,1.5,2.5,3.5]); layout["y"+"axis"+xr[1:]]["range"]=[-.675,4.2]
for c,p,o,s,f in zip([1,2],[D_ALIVE,D_DEAD],[V_D_ALIVE,V_D_DEAD],S_D,[FILL["sky"],FILL["teal"]]): group(xr,yr,c,p,o,s,f)
brackets(xr,yr,BR_D,True)
xr,yr=panel_axes(*X2,*Y2,[.4,4.6],CLUSTERS,"Cluster",[0,2,4,6],[1,3,5]); layout["y"+"axis"+xr[1:]]["range"]=[-.8,6.87]
for c,p,o,s,f in zip([1,2,3,4],[E_C1,E_C2,E_C3,E_C4],[V_E_C1,V_E_C2,V_E_C3,V_E_C4],S_E,[FILL["c1"],FILL["c2"],FILL["c3"],FILL["c4"]]): group(xr,yr,c,p,o,s,f)
brackets(xr,yr,BR_E,True)

for x,y,t in [(50.5,45.5,"Kruskal\u2212Wallis test p=0.68"),(700,45.5,"Kruskal\u2212Wallis test p=0.24"),(1349,45.5,"wilcox.tests p=0.11"),
              (50.5,695.8,"wilcox.tests p=1e\u221209"),(700,695.8,"Kruskal\u2212Wallis test p=1.5e\u221221"),(1383,695.8,"\u2212log10(anova p value)")]:
    text(x,y,t,29)
for x,y,t in [(1,15,"A"),(646,15,"B"),(1298,15,"C"),(1,669,"D"),(646,669,"E"),(1298,669,"F"),(4,1321,"G")]:
    text(x,y,t,27,bold=True)

# ---------- panel F ----------
gg = dict(showgrid=True,gridcolor="white",gridwidth=2,zeroline=False,showline=False,ticks="outside",ticklen=5,tickwidth=2,tickcolor="#333333",
          tickfont=dict(size=19.5,color="#4D4D4D",family=SANS))
shapes.append(dict(type="rect",xref="paper",yref="paper",x0=1384/W,x1=1925.5/W,y0=1-870.4/H,y1=1-725.2/H,fillcolor=GRID,line_width=0,layer="below"))
xr,yr=axes(1384,1925.5,725.2,870.4,dict(gg,range=[.4,2.6],tickvals=[1,2],showticklabels=False),dict(gg,range=[.405,2.595],tickvals=[1,2],ticktext=F_LEVELS))
traces.append(go.Heatmap(x=[1,2],y=[1,2],z=F_ANOVA,text=F_ANOVA_TEXT,texttemplate="%{text}",textfont=dict(size=24,color="black"),xaxis=xr,yaxis=yr,
                         colorscale=[[0,"#FFFFFF"],[1,"#4682B4"]],showscale=False,xgap=.5,ygap=.5,hoverinfo="skip"))
xr,yr=axes(1384,1925.5,902,1178.5,dict(gg,range=[.4,2.6],tickvals=[1,2],ticktext=F_LEVELS,ticklabelstandoff=-5),
           dict(gg,range=[-.054,1.049],tickvals=[0,.25,.5,.75,1],ticktext=["0.00","0.25","0.50","0.75","1.00"],
                minor=dict(tickvals=[.125,.375,.625,.875],showgrid=True,gridcolor="white",gridwidth=1,ticks="")))
shapes.append(dict(type="rect",xref="paper",yref="paper",x0=1384/W,x1=1925.5/W,y0=1-1178.5/H,y1=1-902/H,fillcolor=GRID,line_width=0,layer="below"))
F_COL={"C1":"#6CC5DC","C2":"#5F719F","C3":"#29B096","C4":"#EA6C58"}
hi_c=[0];lo_c=[0]
for k in ["C4","C3","C2","C1"]:
    traces.append(go.Bar(x=[1,2],y=[F_HIGH[k],F_LOW[k]],width=.5,xaxis=xr,yaxis=yr,marker=dict(color=F_COL[k],line=dict(color="black",width=2.6)),hoverinfo="skip"))
    hi_c.append(hi_c[-1]+F_HIGH[k]); lo_c.append(lo_c[-1]+F_LOW[k])
for i,k in enumerate(["C4","C3","C2","C1"]):
    traces.append(go.Scatter(x=[1,2],y=[(hi_c[i]+hi_c[i+1])/2-.008,(lo_c[i]+lo_c[i+1])/2-.008],xaxis=xr,yaxis=yr,mode="text",text=[F_HIGH_TXT[k],F_LOW_TXT[k]],
                             textfont=dict(size=24,color="black"),hoverinfo="skip"))
    line(xr,yr,[1.25,1.75],[hi_c[i+1],lo_c[i+1]],2.4,color="black")
text(1487,1286,"Cluster",24.5)
for xs,xl,k in zip([1581,1644,1708,1771],[1604,1668,1731,1795],["C1","C2","C3","C4"]):
    shapes.append(dict(type="rect",xref="paper",yref="paper",x0=xs/W,x1=(xs+11)/W,y0=1-1292.6/H,y1=1-1275/H,fillcolor=F_COL[k],line=dict(color="black",width=1.6)))
    text(xl,1283,k,18.5)

# ---------- panel G ----------
def expand(s):
    out=[]
    for t in s.split():
        out += [int(t[0])]*int(t[1:])
    out = out[:N]
    return out+[out[-1]]*(N-len(out))
def discrete(cols):
    k=len(cols); sc=[]
    for i,c in enumerate(cols):
        sc += [[i/k,c],[(i+1)/k,c]]
    return sc
HX=(81.7,1426.7)
cols=list(range(N))
def track(y0,y1,name,z,**kw):
    blank=dict(range=[-.5,N-.5],showgrid=False,zeroline=False,showline=False,showticklabels=False,ticks="")
    r=dict(range=[-.5,.5],showgrid=False,zeroline=False,showline=False,side="right",tickvals=[0],ticktext=[name],ticks="outside",ticklen=5,ticklabelstandoff=-6,
           tickcolor="rgba(0,0,0,0)",tickfont=dict(size=26.5,color="black",family=SANS))
    xr,yr=axes(*HX,y0,y1,blank,r)
    traces.append(go.Heatmap(x=cols,y=[0],z=[z],xaxis=xr,yaxis=yr,hoverinfo="skip",**kw))
STD=dict(showscale=False)
track(1351.4,1384,"Cluster",expand(T_CLUSTER),colorscale=discrete(["#888888",CL["C1"],CL["C2"],CL["C3"],CL["C4"]]),zmin=-.5,zmax=4.5,**STD)
track(1389.7,1422,"Stage",expand(T_STAGE),colorscale=discrete(ST),zmin=-.5,zmax=4.5,**STD)
track(1428,1460.3,"Grade",expand(T_GRADE),colorscale=discrete(ST),zmin=-.5,zmax=4.5,**STD)
track(1466.7,1499,"Status",expand(T_STATUS),colorscale=discrete(["#888888","#2E8FC6","#EF6CA8"]),zmin=-.5,zmax=2.5,**STD)
track(1505,1537.3,"RiskType",expand(T_RISKTYPE),colorscale=discrete(["#888888","#BC3A26","#12844F"]),zmin=-.5,zmax=2.5,**STD)
rs=[v for v in RISK_SCORE for _ in range(5)]
track(1542.9,1576,"RiskScore",rs,colorscale=RS,zmin=-2.27,zmax=4.27,showscale=True,
      colorbar=dict(thickness=27,thicknessmode="pixels",len=137,lenmode="pixels",x=1805/W,xanchor="left",xpad=0,y=1-1522.3/H,yanchor="top",ypad=0,outlinewidth=0,
                    tickvals=[-2,0,2,4],ticktext=["\u22122","0","2","4"],ticks="inside",ticklen=7,tickcolor="white",tickfont=dict(size=22,color="#222222",family=SANS)))
xa=dict(range=[-.5,N-.5],showgrid=False,zeroline=False,showline=True,mirror=True,linecolor="black",linewidth=2,showticklabels=False,ticks="")
ya=dict(range=[8.5,-.5],showgrid=False,zeroline=False,showline=True,mirror=True,linecolor="black",linewidth=2,side="right",tickvals=list(range(9)),ticktext=GENES,
        ticks="outside",ticklen=5,ticklabelstandoff=-6,tickcolor="rgba(0,0,0,0)",tickfont=dict(size=26.5,color="black",family=SANS))
xr,yr=axes(*HX,1582.8,1975.8,xa,ya)
zz=[[LEVEL_VALUES[int(ch)] for ch in r.replace(" ","")] for r in HEAT_ROWS]
traces.append(go.Heatmap(x=cols,y=list(range(9)),z=zz,xaxis=xr,yaxis=yr,colorscale=LAV,zmin=-4.35,zmax=4.35,hoverinfo="skip",showscale=True,
    colorbar=dict(thickness=27,thicknessmode="pixels",len=137,lenmode="pixels",x=1568.4/W,xanchor="left",xpad=0,y=1-1416.5/H,yanchor="top",ypad=0,outlinewidth=0,
                  tickvals=[-4,-2,0,2,4],ticktext=["\u22124","\u22122","0","2","4"],ticks="inside",ticklen=7,tickcolor="white",tickfont=dict(size=22,color="#222222",family=SANS))))
# dendrogram
plain=dict(showgrid=False,zeroline=False,showline=False,showticklabels=False,ticks="")
xr,yr=axes(12,79,1582.8,1975.8,dict(plain,range=[67,0]),dict(plain,range=[8.5,-.5]))
nodes=[(0,i) for i in range(9)]
for a,b,h in MERGES:
    (h1,y1),(h2,y2)=nodes[a],nodes[b]
    line(xr,yr,[h1,h,h,h2],[y1,y1,y2,y2],1.8,color="black")
    nodes.append((h,(y1+y2)/2))
# colorbar left-side dashes
for xb,vals,top,step in [(1568.4,[4,2,0,-2,-4],1422.2,15.75*2),(1805,[4,2,0,-2],1528,41.9)]:
    for i,_ in enumerate(vals):
        yy=top+i*step
        shapes.append(dict(type="line",xref="paper",yref="paper",x0=xb/W,x1=(xb+7)/W,y0=1-yy/H,y1=1-yy/H,line=dict(color="white",width=1)))
# categorical legends
def legend(x,ytitle,ystart,title,items,colors):
    text(x,ytitle,title,22,bold=True)
    for i,(it,c) in enumerate(zip(items,colors)):
        yy=ystart+i*25.6
        shapes.append(dict(type="rect",xref="paper",yref="paper",x0=(x+.5)/W,x1=(x+24)/W,y0=1-(yy+24.5)/H,y1=1-yy/H,fillcolor=c,line_width=0))
        text(x+32,yy+12.5,it,22,color="#222222")
legend(1715,1397,1419,"Cluster",CLUSTERS,[CL[k] for k in CLUSTERS])
legend(1715,1554.4,1576,"Stage",STAGES,ST[1:])
legend(1715,1711,1732.6,"Grade",GRADES,ST[1:])
legend(1715,1868,1889.2,"Status",STATUS,["#2E8FC6","#EF6CA8"])
legend(1804,1397,1419,"RiskType",["High","Low"],["#BC3A26","#12844F"])
text(1568,1397,"log2(TPM+1)",22,bold=True)
text(1804,1502.7,"RiskScore",22,bold=True)

layout["annotations"]=ann; layout["shapes"]=shapes
fig=go.Figure(data=traces,layout=layout)
fig.write_html("out.html",config={"displayModeBar":False},post_script="document.body.style.margin='0';document.body.style.overflow='hidden';")
